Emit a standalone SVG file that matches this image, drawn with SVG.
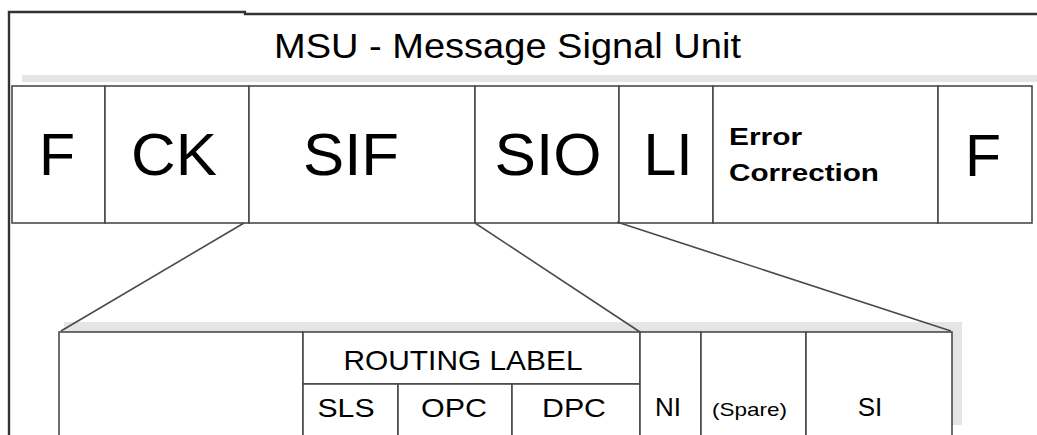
<svg xmlns="http://www.w3.org/2000/svg" width="1037" height="435" viewBox="0 0 1037 435">
  <style>
    .cell { fill: #ffffff; stroke: #4a4a4a; stroke-width: 1.6; }
    .shadow { fill: #e5e5e5; stroke: none; }
    .frame { fill: none; stroke: #333333; stroke-width: 2.4; }
    .link { fill: none; stroke: #4a4a4a; stroke-width: 1.6; }
    text { font-family: "Liberation Sans", Arial, sans-serif; fill: #000000; }
    .big { font-size: 59px; text-anchor: middle; }
    .title { font-size: 35px; }
    .bold { font-size: 24px; font-weight: bold; }
    .mid { font-size: 26px; text-anchor: middle; }
    .small { font-size: 19px; }
  </style>

  <rect width="1037" height="435" fill="#ffffff"/>

  <!-- outer frame: left edge and top rule -->
  <g id="frame">
    <polyline class="frame" points="9,435 9,12 245,12 245,14 1037,14"/>
  </g>

  <!-- heading -->
  <g id="title">
    <text class="title" x="274" y="58" textLength="467" lengthAdjust="spacingAndGlyphs">MSU - Message Signal Unit</text>
  </g>

  <!-- MSU field row -->
  <rect class="shadow" x="22" y="75" width="1015" height="7"/>
  <g id="msu-row">
    <g id="f-open">
      <rect class="cell" x="12" y="86" width="93" height="137"/>
      <text class="big" x="57" y="175">F</text>
    </g>
    <g id="ck">
      <rect class="cell" x="105" y="86" width="144" height="137"/>
      <text class="big" x="174" y="175" textLength="86" lengthAdjust="spacingAndGlyphs">CK</text>
    </g>
    <g id="sif">
      <rect class="cell" x="249" y="86" width="226" height="137"/>
      <text class="big" x="351" y="175" textLength="96" lengthAdjust="spacingAndGlyphs">SIF</text>
    </g>
    <g id="sio">
      <rect class="cell" x="475" y="86" width="144" height="137"/>
      <text class="big" x="548" y="175" textLength="107" lengthAdjust="spacingAndGlyphs">SIO</text>
    </g>
    <g id="li">
      <rect class="cell" x="619" y="86" width="94" height="137"/>
      <text class="big" x="668" y="175">LI</text>
    </g>
    <g id="error-correction">
      <rect class="cell" x="713" y="86" width="225" height="137"/>
      <text class="bold" x="729" y="145" textLength="73" lengthAdjust="spacingAndGlyphs">Error</text>
      <text class="bold" x="729" y="181" textLength="150" lengthAdjust="spacingAndGlyphs">Correction</text>
    </g>
    <g id="f-close">
      <rect class="cell" x="938" y="86" width="94" height="137"/>
      <text class="big" x="983" y="176">F</text>
    </g>
  </g>

  <!-- detail row: routing label and service information octet -->
  <rect class="shadow" x="64" y="322" width="898" height="103"/>
  <g id="detail-row">
    <g id="sif-data">
      <rect class="cell" x="59" y="332" width="244" height="110"/>
    </g>
    <g id="routing-label">
      <rect class="cell" x="303" y="332" width="337" height="52"/>
      <text x="463" y="370" font-size="28" text-anchor="middle" textLength="239" lengthAdjust="spacingAndGlyphs">ROUTING LABEL</text>
    </g>
    <g id="sls">
      <rect class="cell" x="303" y="384" width="95" height="58"/>
      <text class="mid" x="346" y="416.5" textLength="57" lengthAdjust="spacingAndGlyphs">SLS</text>
    </g>
    <g id="opc">
      <rect class="cell" x="398" y="384" width="114" height="58"/>
      <text class="mid" x="454" y="416.5" textLength="66" lengthAdjust="spacingAndGlyphs">OPC</text>
    </g>
    <g id="dpc">
      <rect class="cell" x="512" y="384" width="128" height="58"/>
      <text class="mid" x="574" y="416.5" textLength="64" lengthAdjust="spacingAndGlyphs">DPC</text>
    </g>
    <g id="ni">
      <rect class="cell" x="640" y="332" width="61" height="110"/>
      <text class="mid" x="668" y="416">NI</text>
    </g>
    <g id="spare">
      <rect class="cell" x="701" y="332" width="105" height="110"/>
      <text class="small" x="712" y="416" textLength="75" lengthAdjust="spacingAndGlyphs">(Spare)</text>
    </g>
    <g id="si">
      <rect class="cell" x="806" y="332" width="146" height="110"/>
      <text class="mid" x="870" y="416">SI</text>
    </g>
  </g>

  <!-- expansion lines from SIF / SIO down to the detail row -->
  <g id="connectors">
    <line class="link" x1="244" y1="223" x2="61" y2="331"/>
    <line class="link" x1="475" y1="223" x2="640" y2="332"/>
    <line class="link" x1="617" y1="222" x2="951" y2="331"/>
  </g>
</svg>
